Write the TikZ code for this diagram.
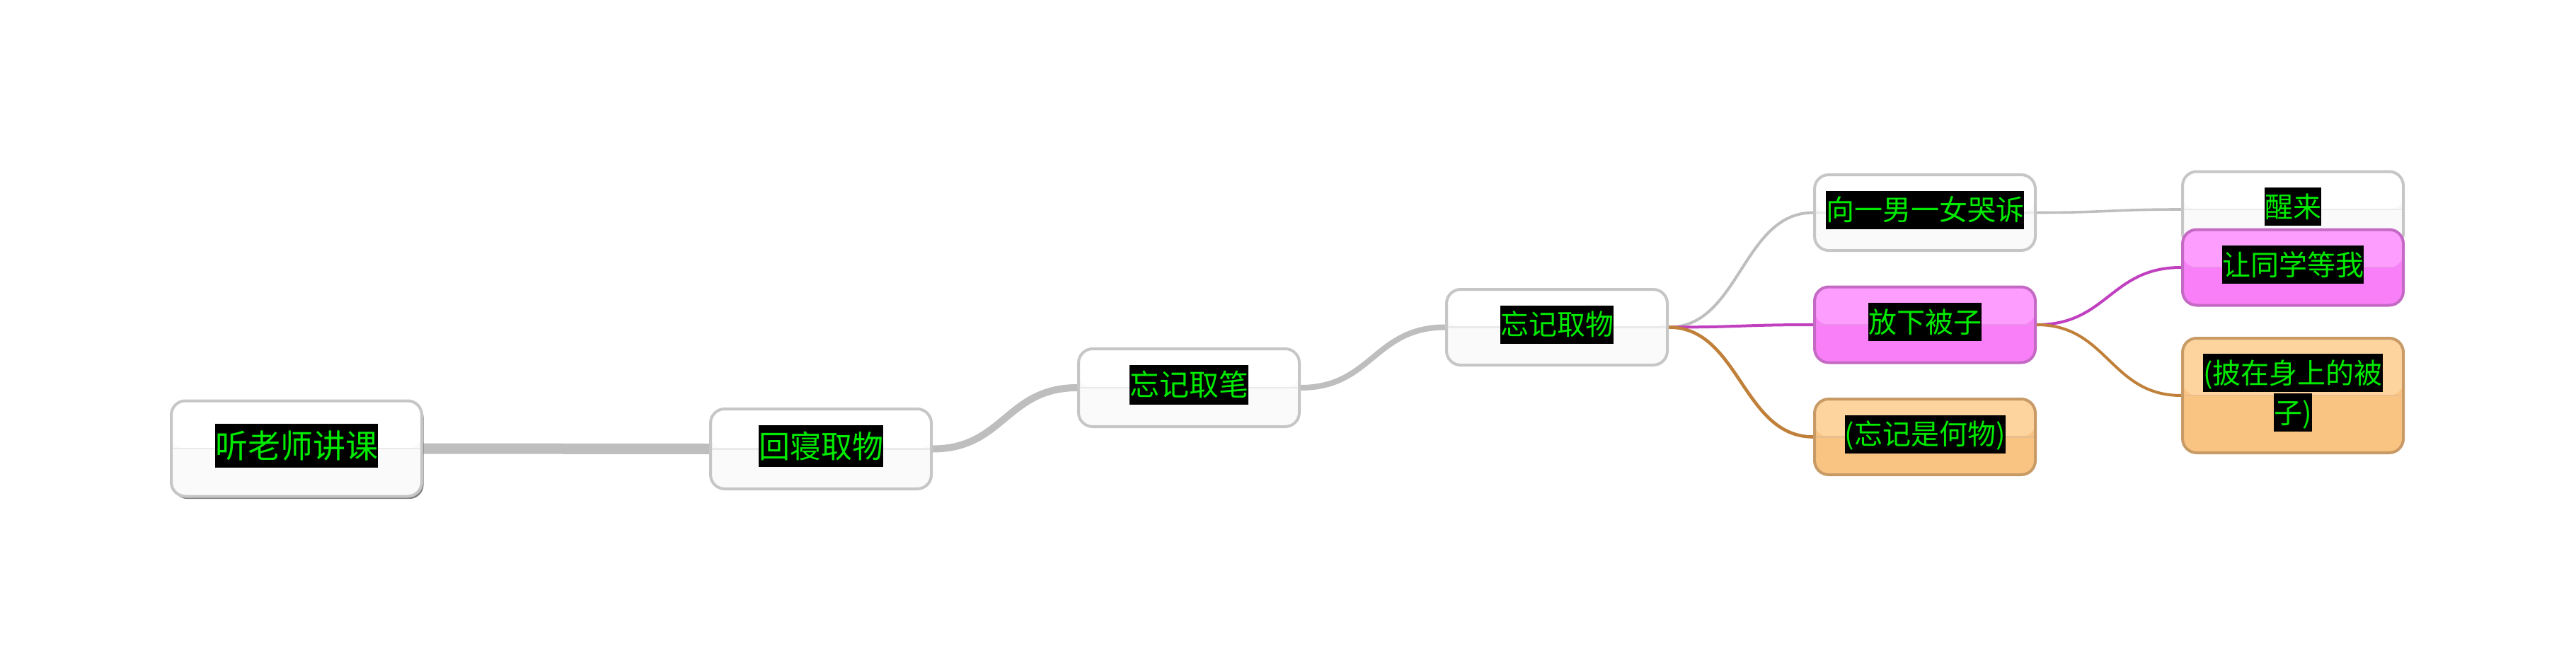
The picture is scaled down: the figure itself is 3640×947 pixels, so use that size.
\documentclass[tikz,border=0pt]{standalone}
\usepackage{fontspec}
\setmainfont{Noto Sans CJK SC}
\usetikzlibrary{backgrounds,shadows}
\definecolor{txtgreen}{RGB}{0,235,0}
\definecolor{linegray}{RGB}{190,190,190}
\definecolor{bordergray}{RGB}{198,198,198}
\definecolor{whitetop}{RGB}{255,255,255}
\definecolor{whitebot}{RGB}{250,250,250}
\definecolor{whitemid}{RGB}{234,234,234}
\definecolor{pinktop}{RGB}{253,157,253}
\definecolor{pinkbot}{RGB}{248,127,248}
\definecolor{pinkmid}{RGB}{236,140,236}
\definecolor{pinkborder}{RGB}{196,106,196}
\definecolor{orangetop}{RGB}{253,211,158}
\definecolor{orangebot}{RGB}{249,196,130}
\definecolor{orangemid}{RGB}{234,190,140}
\definecolor{orangeborder}{RGB}{200,154,102}
\definecolor{magline}{RGB}{192,64,192}
\definecolor{brownline}{RGB}{192,128,58}
\newcommand\blk[1]{{\setlength{\fboxsep}{0pt}\colorbox{black}{\color{txtgreen}\rule[-0.3em]{0pt}{1.35em}#1}}}
\newcommand\lift{\rule[\dimexpr-0.3em-4pt\relax]{0pt}{1pt}}
\tikzset{
  twotone/.style n args={3}{path picture={
    \fill[#1] (path picture bounding box.north west) rectangle (path picture bounding box.east);
    \fill[#2] (path picture bounding box.west) rectangle (path picture bounding box.south east);
    \draw[#3, line width=1.2pt] (path picture bounding box.west) -- (path picture bounding box.east);}},
  mapbox/.style={rounded corners=10pt, line width=2pt, minimum width=156pt,
    minimum height=53.5pt, inner sep=0pt, align=center,
    font=\fontsize{20pt}{27pt}\selectfont},
  whitebox/.style={mapbox, draw=bordergray, fill=whitebot, twotone={whitetop}{whitebot}{whitemid}},
  pinkbox/.style={mapbox, draw=pinkborder, fill=pinkbot, twotone={pinktop}{pinkbot}{pinkmid}},
  orangebox/.style={mapbox, draw=orangeborder, fill=orangebot, twotone={orangetop}{orangebot}{orangemid}},
  conn/.style={line width=2pt, draw=linegray},
}
\begin{document}
\begin{tikzpicture}[x=0.5pt, y=-0.5pt]
\useasboundingbox (0,0) rectangle (3640,947);
\node[whitebox, minimum width=177pt, minimum height=67.5pt,
  font=\fontsize{23pt}{31pt}\selectfont,
  drop shadow={shadow xshift=1.3pt, shadow yshift=-1.8pt, opacity=0.85, fill=black!60}]
  (n1) at (419,634) {\blk{听老师讲课}\lift};
\node[whitebox, minimum height=56.5pt, font=\fontsize{22pt}{30pt}\selectfont]
  (n2) at (1160,634.5) {\blk{回寝取物}\lift};
\node[whitebox, minimum height=55pt, font=\fontsize{21pt}{28pt}\selectfont]
  (n3) at (1680,548) {\blk{忘记取笔}\lift};
\node[whitebox] (n4) at (2200,462.5) {\blk{忘记取物}\lift};
\node[whitebox] (n5) at (2720,300.5) {\blk{向一男一女哭诉}\lift};
\node[pinkbox] (n6) at (2720,459) {\blk{放下被子}\lift};
\node[orangebox] (n7) at (2720,617.5) {\blk{(忘记是何物)}\lift};
\node[whitebox] (n8) at (3240,296) {\blk{醒来}\lift};
\node[pinkbox] (n9) at (3240,378) {\blk{让同学等我}\lift};
\node[orangebox, minimum height=81pt] (n10) at (3240,559) {\blk{(披在身上的被}\\\blk{子)}\lift};
\begin{scope}[on background layer]
\draw[conn, line width=7.5pt] (n1.east) -- (n2.west);
\draw[conn, line width=5pt] (n2.east) .. controls +(100,0) and +(-100,0) .. (n3.west);
\draw[conn, line width=4pt] (n3.east) .. controls +(100,0) and +(-100,0) .. (n4.west);
\draw[conn] (n4.east) .. controls +(100,0) and +(-100,0) .. (n5.west);
\draw[conn, draw=magline] (n4.east) .. controls +(100,0) and +(-100,0) .. (n6.west);
\draw[conn, draw=brownline, line width=2.3pt] (n4.east) .. controls +(100,0) and +(-100,0) .. (n7.west);
\draw[conn, line width=1.8pt] (n5.east) .. controls +(100,0) and +(-100,0) .. (n8.west);
\draw[conn, draw=magline] (n6.east) .. controls +(100,0) and +(-100,0) .. (n9.west);
\draw[conn, draw=brownline] (n6.east) .. controls +(100,0) and +(-100,0) .. (n10.west);
\end{scope}
\end{tikzpicture}
\end{document}
